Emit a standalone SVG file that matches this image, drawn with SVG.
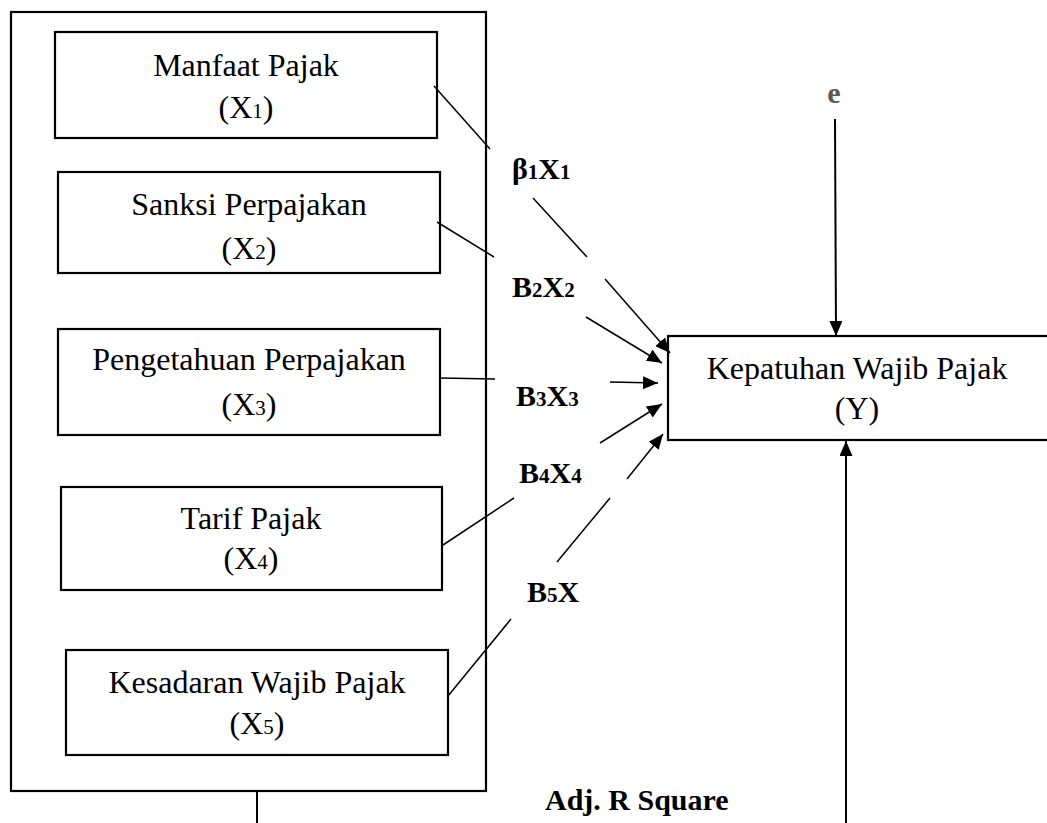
<svg xmlns="http://www.w3.org/2000/svg" width="1047" height="823" viewBox="0 0 1047 823">
<style>
.box{fill:#fff;stroke:#000;stroke-width:2.2}
.outer{fill:none;stroke:#000;stroke-width:2.2}
.t{font-family:"Liberation Serif","Times New Roman",serif;font-size:32px;fill:#000;text-anchor:middle}
.sub{font-size:21px}
.lbl{font-family:"Liberation Serif","Times New Roman",serif;font-size:30px;font-weight:bold;fill:#000}
.ln{stroke:#000;stroke-width:1.5;fill:none}
.ar{stroke:#000;stroke-width:2;fill:none}
</style>
<defs>
<marker id="ah" markerUnits="userSpaceOnUse" markerWidth="16" markerHeight="13" refX="15" refY="6.5" orient="auto">
<path d="M0,0 L15,6.5 L0,13 z" fill="#000"/>
</marker>
</defs>
<rect class="outer" x="11" y="12" width="475" height="779"/>
<g id="x1">
<rect class="box" x="55" y="32" width="382" height="106"/>
<text class="t" x="246" y="76">Manfaat Pajak</text>
<text class="t" x="246" y="118">(X<tspan class="sub">1</tspan>)</text>
</g>
<g id="x2">
<rect class="box" x="58" y="172" width="382" height="101"/>
<text class="t" x="249" y="215">Sanksi Perpajakan</text>
<text class="t" x="249" y="259">(X<tspan class="sub">2</tspan>)</text>
</g>
<g id="x3">
<rect class="box" x="58" y="329" width="382" height="106"/>
<text class="t" x="249" y="370">Pengetahuan Perpajakan</text>
<text class="t" x="249" y="415">(X<tspan class="sub">3</tspan>)</text>
</g>
<g id="x4">
<rect class="box" x="61" y="487" width="381" height="103"/>
<text class="t" x="251" y="529">Tarif Pajak</text>
<text class="t" x="251" y="569">(X<tspan class="sub">4</tspan>)</text>
</g>
<g id="x5">
<rect class="box" x="66" y="650" width="382" height="105"/>
<text class="t" x="257" y="693">Kesadaran Wajib Pajak</text>
<text class="t" x="257" y="734">(X<tspan class="sub">5</tspan>)</text>
</g>
<g id="y">
<rect class="box" x="668" y="336" width="382" height="104"/>
<text class="t" x="857" y="379">Kepatuhan Wajib Pajak</text>
<text class="t" x="857" y="419">(Y)</text>
</g>
<g id="labels">
<text class="lbl" x="512" y="179">β<tspan class="sub">1</tspan>X<tspan class="sub">1</tspan></text>
<text class="lbl" x="512" y="297">B<tspan class="sub">2</tspan>X<tspan class="sub">2</tspan></text>
<text class="lbl" x="516" y="406">B<tspan class="sub">3</tspan>X<tspan class="sub">3</tspan></text>
<text class="lbl" x="519" y="483">B<tspan class="sub">4</tspan>X<tspan class="sub">4</tspan></text>
<text class="lbl" x="527" y="602">B<tspan class="sub">5</tspan>X</text>
<text class="lbl" x="834" y="103" text-anchor="middle" style="fill:#595959">e</text>
<text class="lbl" x="545" y="810">Adj. R Square</text>
</g>
<g id="connectors">
<line class="ln" x1="434" y1="86" x2="490" y2="149"/>
<line class="ln" x1="533" y1="198" x2="587" y2="257"/>
<line class="ln" x1="605" y1="279" x2="670" y2="353" marker-end="url(#ah)"/>
<line class="ln" x1="437" y1="222" x2="494" y2="257"/>
<line class="ln" x1="586" y1="317" x2="662" y2="363" marker-end="url(#ah)"/>
<line class="ln" x1="440" y1="378" x2="495" y2="379"/>
<line class="ln" x1="610" y1="382" x2="658" y2="383" marker-end="url(#ah)"/>
<line class="ln" x1="443" y1="545" x2="514" y2="498"/>
<line class="ln" x1="600" y1="443" x2="662" y2="404" marker-end="url(#ah)"/>
<line class="ln" x1="448" y1="696" x2="511" y2="619"/>
<line class="ln" x1="557" y1="562" x2="610" y2="498"/>
<line class="ln" x1="627" y1="479" x2="663" y2="434" marker-end="url(#ah)"/>
<line class="ar" x1="835" y1="119" x2="836" y2="336" marker-end="url(#ah)"/>
<line class="ar" x1="846" y1="823" x2="846" y2="441" marker-end="url(#ah)"/>
<line class="ar" x1="257" y1="791" x2="257" y2="823"/>
</g>
</svg>
